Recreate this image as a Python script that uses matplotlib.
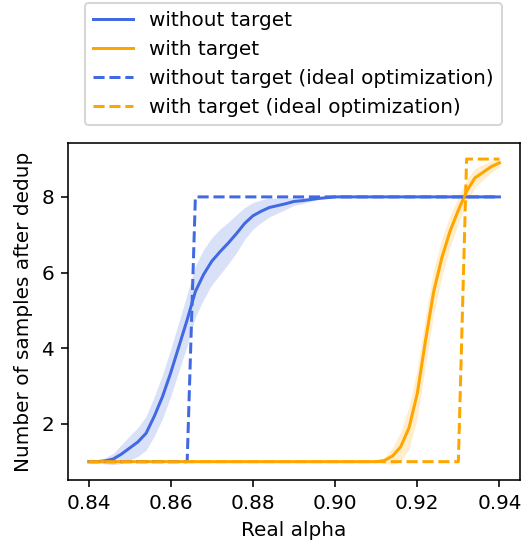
import numpy as np
import matplotlib
matplotlib.use("Agg")
import matplotlib.pyplot as plt

# real alpha grid, 0.840 .. 0.940 step 0.002
alpha = np.round(np.arange(0.840, 0.9401, 0.002), 3)

# mean number of samples after dedup, without target
without_mean = [1.0, 1.0, 1.02, 1.07, 1.2, 1.36, 1.52, 1.75, 2.2, 2.72,
                3.35, 4.05, 4.75, 5.5, 5.95, 6.3, 6.55, 6.78, 7.03, 7.3,
                7.5, 7.62, 7.72, 7.77, 7.82, 7.88, 7.9, 7.93, 7.96, 7.98,
                8.0, 8.0, 8.0, 8.0, 8.0, 8.0, 8.0, 8.0, 8.0, 8.0,
                8.0, 8.0, 8.0, 8.0, 8.0, 8.0, 8.0, 8.0, 8.0, 8.0, 8.0]
without_std = [0.0, 0.03, 0.08, 0.15, 0.25, 0.32, 0.38, 0.45, 0.52, 0.58,
               0.62, 0.65, 0.68, 0.68, 0.66, 0.62, 0.6, 0.55, 0.5, 0.42,
               0.35, 0.3, 0.25, 0.2, 0.15, 0.1, 0.08, 0.05, 0.03, 0.01,
               0.0, 0.0, 0.0, 0.0, 0.0, 0.0, 0.0, 0.0, 0.0, 0.0,
               0.0, 0.0, 0.0, 0.0, 0.0, 0.0, 0.0, 0.0, 0.0, 0.0, 0.0]

# with target
with_mean = [1.0] * 36 + [1.03, 1.15, 1.4, 1.9, 2.8, 4.2, 5.5, 6.4, 7.1,
                          7.65, 8.15, 8.5, 8.65, 8.8, 8.9]
with_std = [0.0] * 36 + [0.08, 0.22, 0.4, 0.55, 0.65, 0.65, 0.58, 0.5,
                         0.42, 0.35, 0.3, 0.25, 0.2, 0.15, 0.12]

# ideal optimization
without_ideal = [1.0] * 13 + [8.0] * 38
with_ideal = [1.0] * 46 + [9.0] * 5

blue = "royalblue"
orange = "orange"
DPI = 144

fig = plt.figure(figsize=(530 / DPI, 544 / DPI), dpi=DPI)
ax = fig.add_axes([68 / 530, 64 / 544, 452 / 530, 337 / 544])

wm, ws = np.array(without_mean), np.array(without_std)
tm, ts = np.array(with_mean), np.array(with_std)

ax.plot(alpha, wm, color=blue, label="without target")
ax.fill_between(alpha, wm - ws, wm + ws, color=blue, alpha=0.2, linewidth=0)
ax.plot(alpha, tm, color=orange, label="with target")
ax.fill_between(alpha, tm - ts, tm + ts, color=orange, alpha=0.2, linewidth=0)
ax.plot(alpha, without_ideal, color=blue, linestyle="--",
        label="without target (ideal optimization)")
ax.plot(alpha, with_ideal, color=orange, linestyle="--",
        label="with target (ideal optimization)")

ax.set_xticks([0.84, 0.86, 0.88, 0.90, 0.92, 0.94])
ax.set_yticks([2, 4, 6, 8])
ax.set_xlabel("Real alpha")
ax.set_ylabel("Number of samples after dedup")

fig.legend(loc="upper left", bbox_to_anchor=(85 / 530, 1 - 3 / 544),
           borderaxespad=0)

fig.savefig("out.png", dpi=DPI)
